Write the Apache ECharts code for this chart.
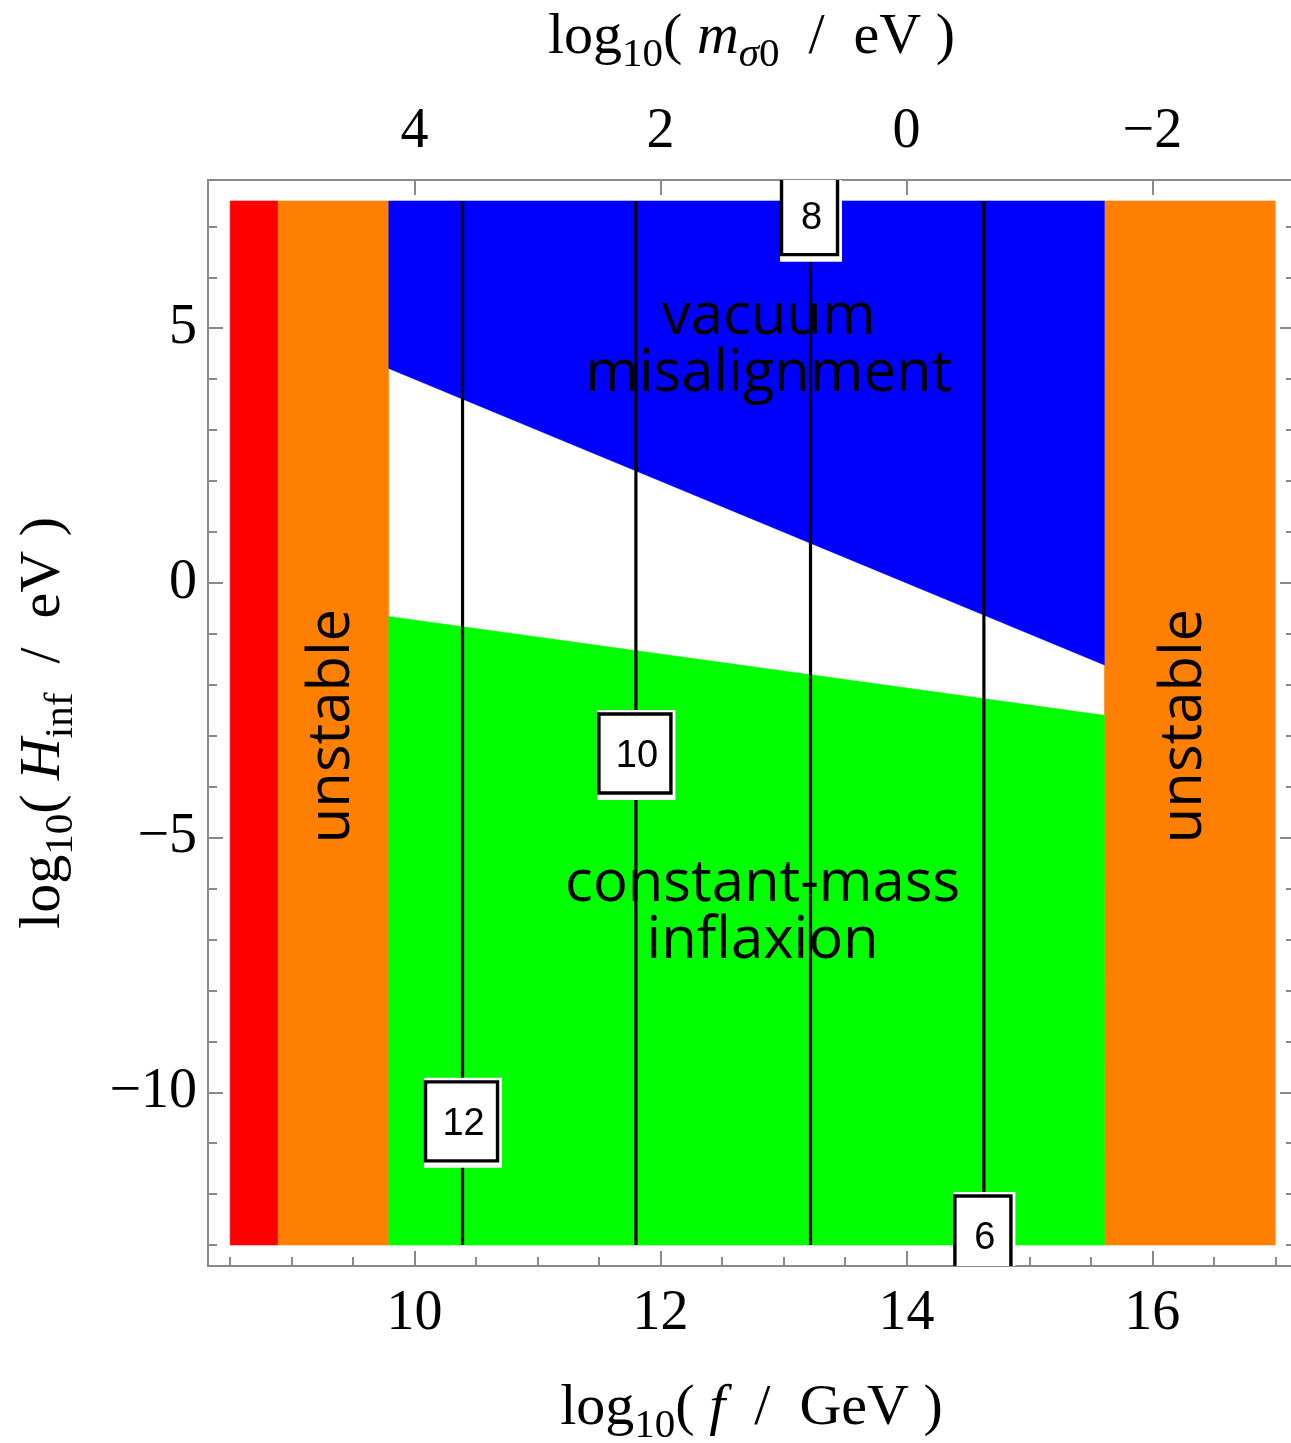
<!DOCTYPE html>
<html>
<head>
<meta charset="utf-8">
<script src="https://cdn.jsdelivr.net/npm/echarts@6/dist/echarts.min.js"></script>
<style>
  html, body { margin: 0; padding: 0; background: #ffffff; }
  #chart { width: 1291px; height: 1443px; }
</style>
</head>
<body>
<div id="chart"></div>
<script>
// ---- parameter space (log10 units) ----
const hRange = [-13, 7.5];              // log10(H_inf / eV)
const fExcluded = [8.5, 8.89];          // red band
const fUnstableLow = [8.89, 9.79];
const fUnstableHigh = [15.61, 17.0];
const fStable = [9.79, 15.61];
// region boundaries in H, evaluated at the two ends of fStable
const hVacuumEdge = [4.21, -1.61];
const hInflaxionEdge = [-0.66, -2.60];

// contour lines, their levels, and where each label sits along its line
const contourF = [10.39, 11.80, 13.22, 14.63];
const contourLevels = [12, 10, 8, 6];
const contourLabelH = [-10.57, -3.35, 7.22, -12.81];

// tick values
const fMajorTicks = [10, 12, 14, 16];
const fMinorTicks = [8.5, 9, 9.5, 10, 10.5, 11, 11.5, 12, 12.5, 13, 13.5, 14, 14.5, 15, 15.5, 16, 16.5, 17];
const hMajorTicks = [-10, -5, 0, 5];
const hMinorTicks = [-13, -12, -11, -10, -9, -8, -7, -6, -5, -4, -3, -2, -1, 0, 1, 2, 3, 4, 5, 6, 7];
// log10(m_sigma0 / eV) = mOffset - log10(f / GeV)
const mOffset = 14;

// region names
const regionNames = [
  { text: 'vacuum\nmisalignment', f: 12.88, h: 4.66, rotate: 0 },
  { text: 'constant-mass\ninflaxion', f: 12.83, h: -6.47, rotate: 0 },
  { text: 'unstable', f: 9.33, h: -2.81, rotate: 90 },
  { text: 'unstable', f: 16.265, h: -2.81, rotate: 90 }
];

const RED = '#ff0000', ORANGE = '#ff8000', BLUE = '#0000ff', GREEN = '#00ff00';
const FRAME = '#8a8a8a';

function box(f0, f1, h0, h1) {
  return [[f0, h0], [f1, h0], [f1, h1], [f0, h1]];
}
const regions = [
  { color: RED, pts: box(fExcluded[0], fExcluded[1], hRange[0], hRange[1]) },
  { color: ORANGE, pts: box(fUnstableLow[0], fUnstableLow[1], hRange[0], hRange[1]) },
  { color: ORANGE, pts: box(fUnstableHigh[0], fUnstableHigh[1], hRange[0], hRange[1]) },
  { color: BLUE, pts: [[fStable[0], hRange[1]], [fStable[1], hRange[1]], [fStable[1], hVacuumEdge[1]], [fStable[0], hVacuumEdge[0]]] },
  { color: GREEN, pts: [[fStable[0], hInflaxionEdge[0]], [fStable[1], hInflaxionEdge[1]], [fStable[1], hRange[0]], [fStable[0], hRange[0]]] }
];

const fmt = v => (v < 0 ? '\u2212' + Math.abs(v) : String(v));

const SERIF = 'Liberation Serif';
const tickLabel = { fontFamily: SERIF, fontSize: 56, color: '#000' };
const nameRich = {
  n: { fontFamily: SERIF, fontSize: 58, color: '#000' },
  i: { fontFamily: SERIF, fontSize: 58, fontStyle: 'italic', color: '#000' },
  s: { fontFamily: SERIF, fontSize: 41, color: '#000', padding: [36, 0, 0, 0] },
  si: { fontFamily: SERIF, fontSize: 41, fontStyle: 'italic', color: '#000', padding: [36, 0, 0, 0] }
};

const X_MIN = 8.32, X_MAX = 17.16, Y_MIN = -13.41, Y_MAX = 7.91;

function xAxis(position, ticks, len, opts) {
  return Object.assign({
    type: 'value', position: position, min: X_MIN, max: X_MAX,
    splitLine: { show: false },
    axisLine: { show: true, onZero: false, lineStyle: { color: FRAME, width: 2 } },
    axisTick: { show: true, inside: true, length: len, customValues: ticks, lineStyle: { color: FRAME, width: 2 } },
    axisLabel: { show: false },
    nameMoveOverlap: false
  }, opts || {});
}
function yAxis(position, ticks, len, opts) {
  return Object.assign({
    type: 'value', position: position, min: Y_MIN, max: Y_MAX,
    splitLine: { show: false },
    axisLine: { show: true, onZero: false, lineStyle: { color: FRAME, width: 2 } },
    axisTick: { show: true, inside: true, length: len, customValues: ticks, lineStyle: { color: FRAME, width: 2 } },
    axisLabel: { show: false },
    nameMoveOverlap: false
  }, opts || {});
}
const hiddenLine = { show: false, onZero: false };

const chart = echarts.init(document.getElementById('chart'), null, { renderer: 'canvas' });

const series = [
  {
    type: 'custom',
    name: 'regions',
    coordinateSystem: 'cartesian2d',
    silent: true,
    z: 1,
    data: regions.map(r => r.pts[0]),
    renderItem: function (params, api) {
      const r = regions[params.dataIndex];
      return {
        type: 'polygon',
        shape: { points: r.pts.map(p => api.coord(p)) },
        style: { fill: r.color, stroke: r.color, lineWidth: 0.5 }
      };
    }
  }
];

contourF.forEach(function (f) {
  series.push({
    type: 'line',
    silent: true,
    z: 2,
    symbol: 'none',
    animation: false,
    data: [[f, hRange[0]], [f, hRange[1]]],
    lineStyle: { color: '#000', width: 3.2 }
  });
});

series.push({
  type: 'custom',
  name: 'region names',
  coordinateSystem: 'cartesian2d',
  silent: true,
  z: 3,
  data: regionNames.map(r => [r.f, r.h]),
  renderItem: function (params, api) {
    const r = regionNames[params.dataIndex];
    const p = api.coord([api.value(0), api.value(1)]);
    return {
      type: 'text',
      x: p[0], y: p[1],
      rotation: r.rotate * Math.PI / 180,
      style: {
        text: r.text,
        fill: '#000',
        fontFamily: 'Open Sans',
        fontSize: 58,
        lineHeight: 57,
        align: 'center',
        verticalAlign: 'middle'
      }
    };
  }
});

series.push({
  type: 'custom',
  name: 'contour labels',
  coordinateSystem: 'cartesian2d',
  silent: true,
  clip: true,
  z: 4,
  data: contourF.map((f, i) => [f, contourLabelH[i], contourLevels[i]]),
  renderItem: function (params, api) {
    const p = api.coord([api.value(0), api.value(1)]);
    const txt = String(api.value(2));
    const w = txt.length > 1 ? 72 : 56;
    const h = 79;
    const x0 = p[0] - w / 2 - 1, y0 = p[1] - h / 2;
    return {
      type: 'group',
      children: [
        { type: 'rect', shape: { x: x0 - 1.5, y: y0 - 4, width: w + 6, height: h + 11 }, style: { fill: '#fff' } },
        { type: 'rect', shape: { x: x0, y: y0, width: w, height: h }, style: { fill: '#fff', stroke: '#000', lineWidth: 3.4 } },
        {
          type: 'text', x: p[0] + 1, y: p[1] + 3,
          style: { text: txt, fill: '#000', fontFamily: 'Liberation Sans', fontSize: 38, align: 'center', verticalAlign: 'middle' }
        }
      ]
    };
  }
});

chart.setOption({
  animation: false,
  backgroundColor: '#ffffff',
  grid: { left: 208, top: 180, right: -4, bottom: 177, containLabel: false, outerBoundsMode: 'none' },
  xAxis: [
    xAxis('bottom', fMajorTicks, 15, {
      axisLabel: Object.assign({ show: true, customValues: fMajorTicks, margin: 20, formatter: v => fmt(v) }, tickLabel),
      name: '{n|log}{s|10}{n|( }{i|f}{n|  /  GeV )}',
      nameLocation: 'middle',
      nameGap: 104,
      nameTextStyle: { rich: nameRich }
    }),
    xAxis('bottom', fMinorTicks, 9, { axisLine: hiddenLine }),
    xAxis('top', fMajorTicks, 15, {
      axisLabel: Object.assign({ show: true, customValues: fMajorTicks, margin: 20, formatter: v => fmt(mOffset - v) }, tickLabel),
      name: '{n|log}{s|10}{n|( }{i|m}{si|σ}{s|0}{n|  /  eV )}',
      nameLocation: 'middle',
      nameGap: 104,
      nameTextStyle: { rich: nameRich }
    })
  ],
  yAxis: [
    yAxis('left', hMajorTicks, 15, {
      axisLabel: Object.assign({ show: true, customValues: hMajorTicks, margin: 11, formatter: v => fmt(v) }, tickLabel),
      name: '{n|log}{s|10}{n|( }{i|H}{s|inf}{n|  /  eV )}',
      nameLocation: 'middle',
      nameGap: 126,
      nameTextStyle: { rich: nameRich }
    }),
    yAxis('left', hMinorTicks, 9, { axisLine: hiddenLine }),
    yAxis('right', hMajorTicks, 15),
    yAxis('right', hMinorTicks, 9, { axisLine: hiddenLine })
  ],
  series: series
});
</script>
</body>
</html>
